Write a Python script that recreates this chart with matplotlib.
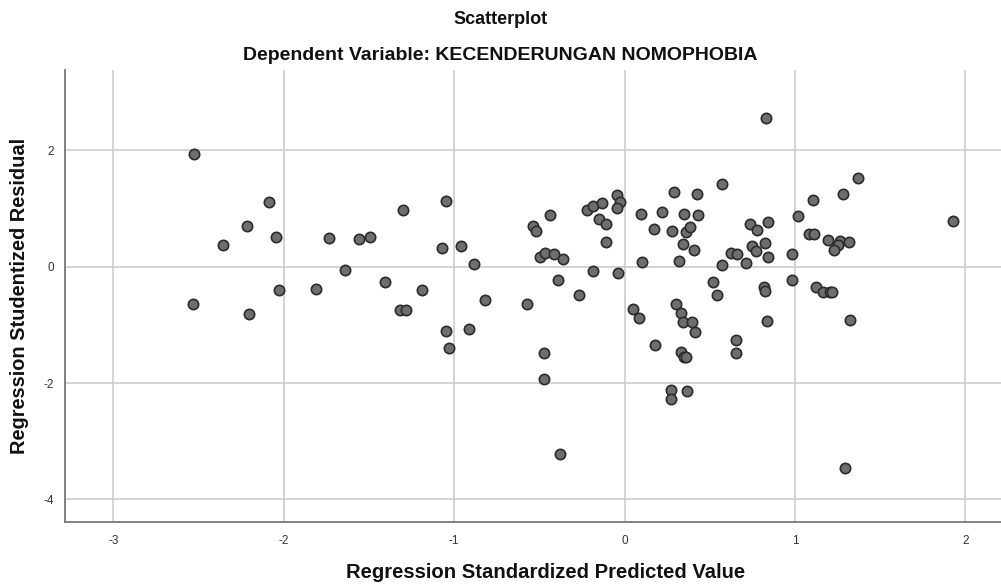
import matplotlib
matplotlib.use("Agg")
import matplotlib.pyplot as plt

pred = [-2.526, -2.086, -2.214, -2.047, -2.357, -1.735, -1.559, -1.496, -1.641, -1.406,
        -2.028, -1.809, -2.533, -2.204, -1.318, -1.283, -1.299, -1.048, -1.070, -0.960,
        -0.882, -1.189, -0.539, -0.518, -0.436, -0.496, -0.467, -0.416, -0.361, -0.393,
        -0.219, -0.187, -0.134, -0.045, -0.025, -0.045, -0.148, -0.111, -0.107, -0.185,
        -0.040, 0.098, 0.218, 0.290, 0.427, 0.347, 0.429, 0.173, 0.278, 0.360,
        0.384, 0.345, 0.407, 0.104, 0.317, 0.828, 0.573, 0.734, 0.775, 0.843,
        0.746, 0.769, 0.826, 0.843, 0.624, 0.661, 0.714, 0.572, 0.982, 1.018,
        1.107, 1.283, 1.368, 1.084, 1.110, 1.194, 1.266, 1.317, 1.252, 1.231,
        1.925, 0.517, 0.542, 0.818, 0.826, 0.982, 1.123, 1.166, 1.205, 1.220,
        1.323, 0.836, 0.656, 0.656, 0.366, 1.293, -0.819, -1.046, -1.029, -0.913,
        -0.571, -0.268, -0.475, -0.471, -0.379, 0.047, 0.083, 0.180, 0.302, 0.329,
        0.345, 0.394, 0.413, 0.329, 0.347, 0.360, 0.270, 0.270]

resid = [1.930, 1.117, 0.705, 0.515, 0.367, 0.493, 0.470, 0.505, -0.050, -0.263,
         -0.400, -0.383, -0.646, -0.807, -0.744, -0.744, 0.974, 1.129, 0.316, 0.361,
         0.046, -0.395, 0.699, 0.619, 0.894, 0.161, 0.241, 0.223, 0.127, -0.229,
         0.974, 1.048, 1.100, 1.227, 1.117, 1.009, 0.820, 0.734, 0.430, -0.069,
         -0.103, 0.900, 0.935, 1.284, 1.244, 0.900, 0.883, 0.648, 0.619, 0.601,
         0.677, 0.385, 0.292, 0.081, 0.098, 2.550, 1.426, 0.728, 0.636, 0.773,
         0.356, 0.275, 0.412, 0.172, 0.241, 0.223, 0.064, 0.029, 0.218, 0.871,
         1.146, 1.249, 1.524, 0.562, 0.557, 0.454, 0.447, 0.424, 0.367, 0.292,
         0.790, -0.258, -0.486, -0.344, -0.412, -0.229, -0.349, -0.430, -0.440, -0.440,
         -0.921, -0.938, -1.259, -1.488, -2.141, -3.454, -0.572, -1.100, -1.402, -1.070,
         -0.641, -0.491, -1.478, -1.924, -3.218, -0.722, -0.881, -1.351, -0.641, -0.801,
         -0.956, -0.956, -1.117, -1.460, -1.546, -1.550, -2.119, -2.273]

x_ticks = [-3, -2, -1, 0, 1, 2]
y_ticks = [-4, -2, 0, 2]

title = "Scatterplot"
subtitle = "Dependent Variable: KECENDERUNGAN NOMOPHOBIA"
xlabel = "Regression Standardized Predicted Value"
ylabel = "Regression Studentized Residual"

plt.rcParams['font.family'] = ['Liberation Sans', 'DejaVu Sans']

W, H = 1001, 584
fig = plt.figure(figsize=(W / 100, H / 100), dpi=100)
left, right, top, bottom = 65, 1001, 70, 522
ax = fig.add_axes([left / W, (H - bottom) / H, (right - left) / W, (bottom - top) / H])

ax.set_xlim(-3.284, 2.209)
ax.set_ylim(-4.387, 3.38)
ax.set_xticks(x_ticks)
ax.set_yticks(y_ticks)
ax.set_xticklabels([str(v) for v in x_ticks])
ax.set_yticklabels([str(v) for v in y_ticks])
ax.grid(True, color='#cccccc', linewidth=1.2)
ax.set_axisbelow(True)
for s in ['top', 'right']:
    ax.spines[s].set_visible(False)
for s in ['left', 'bottom']:
    ax.spines[s].set_color('#777777')
    ax.spines[s].set_linewidth(1.3)
ax.tick_params(length=0, labelsize=8.5, labelcolor='#333333')
ax.tick_params(axis='x', pad=9)
ax.tick_params(axis='y', pad=8)

ax.scatter(pred, resid, s=55, c='#6e6e6e', edgecolors='#2b2b2b', linewidths=1.2, zorder=3)

fig.text(0.5, 1 - 20 / H, title, ha='center', va='center', fontsize=13, fontweight='bold', color='#111111')
fig.text(0.5, 1 - 55 / H, subtitle, ha='center', va='center', fontsize=14, fontweight='bold', color='#111111')
fig.text(546 / W, 1 - 572 / H, xlabel, ha='center', va='center', fontsize=14.6, fontweight='bold', color='#111111')
fig.text(20 / W, 1 - 296 / H, ylabel, ha='center', va='center', rotation=90, fontsize=14.4, fontweight='bold', color='#111111')

fig.savefig('out.png', dpi=100)
